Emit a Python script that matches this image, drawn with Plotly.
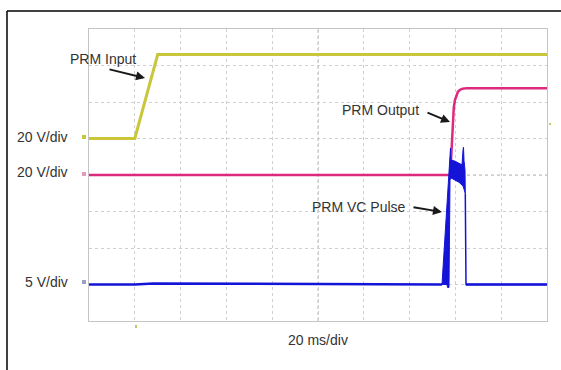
import plotly.graph_objects as go

# ---- data (time in ms, voltages in V) ----
input_t = [0, 20, 30, 200]
input_v = [0, 0, 46, 46]

output_t = [0, 157.7, 158.0, 158.3, 158.6, 158.9, 159.3, 159.8, 160.4, 161.1, 162.0, 163.2, 165.0, 200]
output_v = [0, 0, 6, 15, 24, 31, 37, 41, 43.8, 45.6, 46.7, 47.3, 47.6, 47.6]

vc_t = [0, 20, 28, 60, 120, 154.15]
vc_v = [0, 0, 0.15, 0.1, 0.03, 0]

vc_tail_t = [164.32, 164.41, 164.63, 200]
vc_tail_v = [12.5, 0.3, 0, 0]

burst_t = [154.15, 155.0, 155.9, 156.77, 157.42, 157.86, 158.08, 159.83, 161.57, 162.88, 163.32, 163.54,
           163.76, 164.19, 164.32, 163.32, 161.57, 159.83, 158.08, 157.64, 157.55, 157.42, 157.21,
           156.55, 156.33, 154.15]
burst_v = [0, 4.7, 9.5, 14.3, 18.0, 18.7, 17.05, 16.9, 16.6, 16.4, 18.4, 18.8,
           17.0, 15.7, 12.5, 13.5, 14.0, 14.3, 14.6, 14.3, 7.5, 0, -0.4,
           -0.4, 0, 0]

scale_labels = ["20 V/div", "20 V/div", "5 V/div"]
time_label = "20 ms/div"

# ---- layout geometry (pixels) ----
W, H = 561, 370
L, R, T, B = 89, 547, 29, 321
PW, PH = R - L, B - T


def px(x):
    return (x - L) / PW


def py(y):
    return (B - y) / PH


YEL = "#c9c63c"
PINK = "#de2a7c"
BLUE = "#1414d8"

fig = go.Figure()
fig.add_trace(go.Scatter(x=input_t, y=input_v, mode="lines", line=dict(color=YEL, width=3),
                         yaxis="y", showlegend=False, hoverinfo="skip"))
fig.add_trace(go.Scatter(x=output_t, y=output_v, mode="lines", line=dict(color=PINK, width=2.5),
                         yaxis="y2", showlegend=False, hoverinfo="skip"))
fig.add_trace(go.Scatter(x=vc_t, y=vc_v, mode="lines", line=dict(color=BLUE, width=2.5),
                         yaxis="y3", showlegend=False, hoverinfo="skip"))
fig.add_trace(go.Scatter(x=burst_t, y=burst_v, mode="lines", fill="toself", fillcolor=BLUE,
                         line=dict(color=BLUE, width=1), yaxis="y3", showlegend=False, hoverinfo="skip"))
fig.add_trace(go.Scatter(x=vc_tail_t, y=vc_tail_v, mode="lines", line=dict(color=BLUE, width=1.5),
                         yaxis="y3", showlegend=False, hoverinfo="skip"))
fig.add_trace(go.Scatter(x=vc_tail_t[2:], y=vc_tail_v[2:], mode="lines", line=dict(color=BLUE, width=2.5),
                         yaxis="y3", showlegend=False, hoverinfo="skip"))

grid = dict(showgrid=True, gridcolor="#cfcfcf", griddash="dot", gridwidth=1,
            zeroline=False, showticklabels=False, ticks="",
            showline=True, linecolor="#c4c4c4", linewidth=1, mirror=True)

fig.update_layout(
    width=W, height=H,
    margin=dict(l=L, r=W - R, t=T, b=H - B),
    paper_bgcolor="white", plot_bgcolor="white",
    xaxis=dict(range=[0, 200], dtick=20, **grid),
    yaxis=dict(range=[-100, 60], dtick=20, **grid),
    yaxis2=dict(range=[-80, 80], overlaying="y", visible=False),
    yaxis3=dict(range=[-5, 35], overlaying="y", visible=False),
    font=dict(family="Liberation Sans, Arial, sans-serif", size=14, color="#333333"),
)

shapes = []
# center lines (slightly darker)
shapes.append(dict(type="line", xref="paper", yref="paper", x0=0.5, x1=0.5, y0=0, y1=1,
                   line=dict(color="#b4b4b4", width=1, dash="dot"), layer="below"))
shapes.append(dict(type="line", xref="paper", yref="paper", x0=0, x1=1, y0=0.5, y1=0.5,
                   line=dict(color="#b4b4b4", width=1, dash="dot"), layer="below"))
# outer frame (top and left)
shapes.append(dict(type="line", xref="paper", yref="paper", x0=px(7), x1=px(562), y0=py(11), y1=py(11),
                   line=dict(color="black", width=1.5)))
shapes.append(dict(type="line", xref="paper", yref="paper", x0=px(7), x1=px(7), y0=py(11), y1=py(371),
                   line=dict(color="black", width=1.5)))
# channel markers
for yy, col in [(137, YEL), (174, "#e79ab8"), (282, "#9aa0c8")]:
    shapes.append(dict(type="rect", xref="paper", yref="paper", x0=px(82), x1=px(86),
                       y0=py(yy + 2), y1=py(yy - 2), line=dict(width=0), fillcolor=col))
shapes.append(dict(type="rect", xref="paper", yref="paper", x0=px(135), x1=px(137),
                   y0=py(328), y1=py(325), line=dict(width=0), fillcolor="#c8c66a"))
shapes.append(dict(type="rect", xref="paper", yref="paper", x0=px(549), x1=px(551),
                   y0=py(125), y1=py(123), line=dict(width=0), fillcolor="#c8c66a"))
fig.update_layout(shapes=shapes)

ann = []
for txt, yy in zip(scale_labels, [137, 172, 282]):
    ann.append(dict(text=txt, xref="paper", yref="paper", x=px(70), y=py(yy), xanchor="right",
                    yanchor="middle", showarrow=False))
ann.append(dict(text=time_label, xref="paper", yref="paper", x=px(318), y=py(340),
                xanchor="center", yanchor="middle", showarrow=False))
for txt, cx, cy in [("PRM Input", 103, 59), ("PRM Output", 380, 110), ("PRM VC Pulse", 359, 207)]:
    ann.append(dict(text=txt, xref="paper", yref="paper", x=px(cx), y=py(cy), xanchor="center",
                    yanchor="middle", showarrow=False))
for (tx, ty), (hx, hy) in [((108, 69), (145, 78)), ((426, 112), (450, 122)), ((412, 207), (442, 212))]:
    ann.append(dict(text="", xref="paper", yref="paper", x=px(hx), y=py(hy), ax=tx - hx, ay=ty - hy,
                    showarrow=True, arrowhead=2, arrowsize=0.9, arrowwidth=2, arrowcolor="#1a1a1a"))
fig.update_layout(annotations=ann)

fig.write_html("out.html", config={"displayModeBar": False},
               post_script="document.body.style.margin='0';document.body.style.overflow='hidden';")
